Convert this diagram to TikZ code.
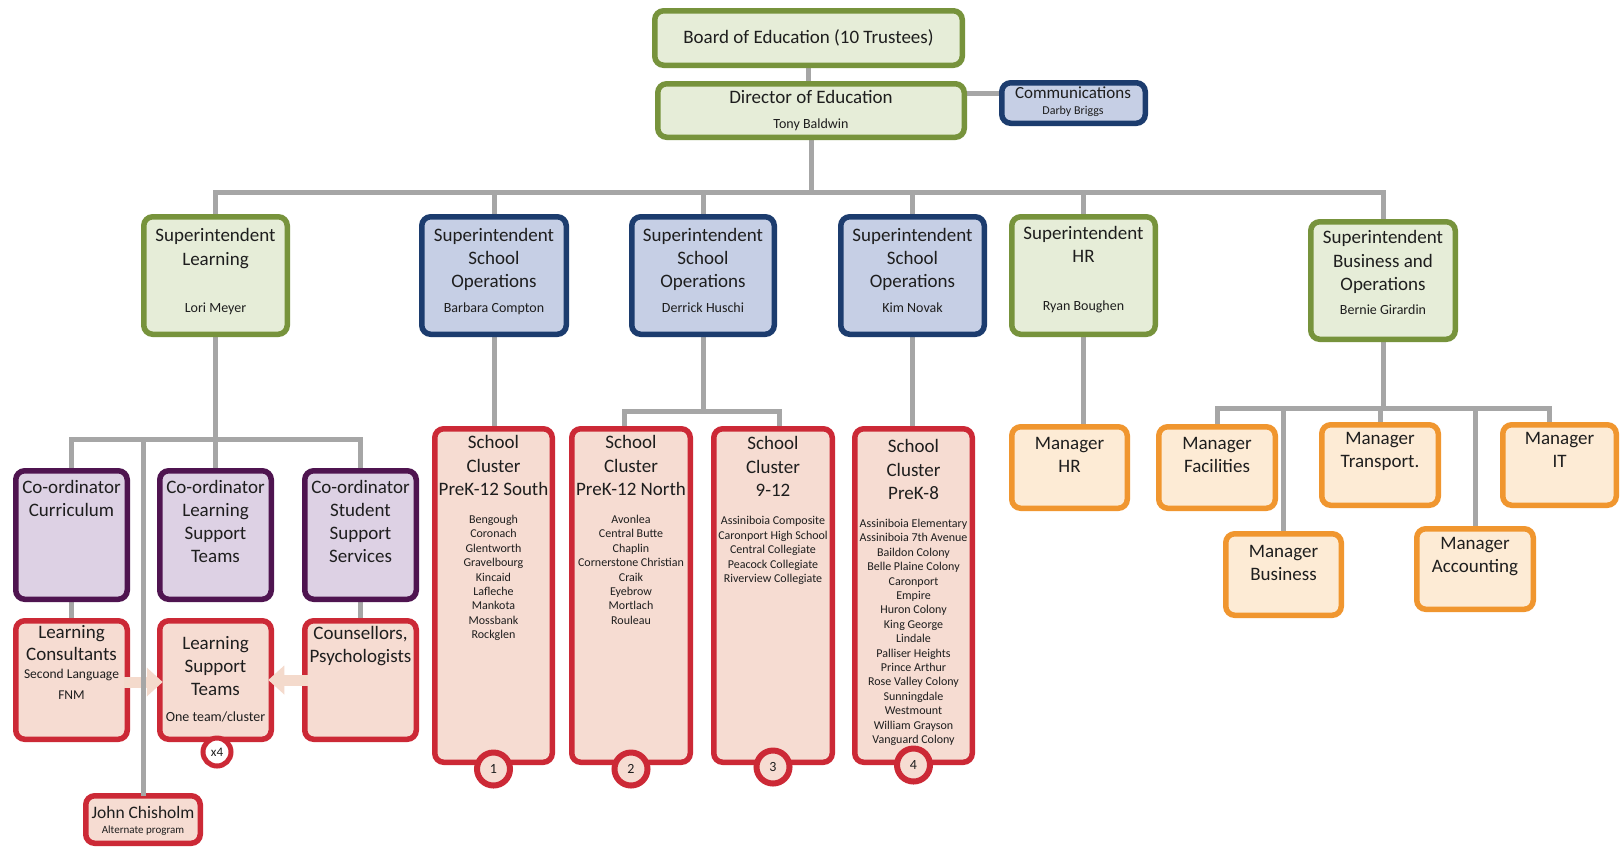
\documentclass[tikz,border=0pt]{standalone}
\usepackage{fontspec}
\setmainfont{Carlito}
\usetikzlibrary{calc,arrows.meta}
\definecolor{gB}{HTML}{77933C}
\definecolor{gF}{HTML}{E6EDD8}
\definecolor{bB}{HTML}{1C3C6E}
\definecolor{bF}{HTML}{C6CFE5}
\definecolor{pB}{HTML}{4F1450}
\definecolor{pF}{HTML}{DDD1E4}
\definecolor{rB}{HTML}{CC2936}
\definecolor{rF}{HTML}{F6DCD2}
\definecolor{oB}{HTML}{F0962F}
\definecolor{oF}{HTML}{FDEBD5}
\definecolor{lineG}{HTML}{A6A6A6}
\definecolor{paleC}{HTML}{F4DACC}
\definecolor{txtC}{HTML}{1E1E1E}
\pgfdeclarelayer{bg}
\pgfsetlayers{bg,main}
\newcommand\obox[6]{%
  \pgfmathsetmacro\oBW{#5-#3-5.5}\pgfmathsetmacro\oBH{#6-#4-5.5}%
  \pgfmathsetmacro\oBX{(#3+#5)/2}\pgfmathsetmacro\oBY{(#4+#6)/2}%
  \node[#2, minimum width=\oBW pt, minimum height=\oBH pt] (#1) at (\oBX,\oBY) {};}
\newcommand\tx[6]{%
  \node[txt, font=\fontsize{#4}{#5}\selectfont] (#1) at (#2,{#3-0.4*#4}) {#6};}
\tikzset{
  box/.style={rectangle, rounded corners=9pt, line width=5.5pt, inner sep=0pt, outer sep=0pt},
  gbox/.style={box, draw=gB, fill=gF},
  bbox/.style={box, draw=bB, fill=bF},
  pbox/.style={box, draw=pB, fill=pF},
  rbox/.style={box, draw=rB, fill=rF},
  obx/.style={box, draw=oB, fill=oF},
  conn/.style={draw=lineG, line width=5pt},
  txt/.style={inner sep=0pt, outer sep=0pt, align=center, anchor=north, text=txtC},
  numc/.style={circle, draw=rB, fill=rF, line width=6pt, minimum size=33pt, inner sep=0pt, text=txtC, font=\fontsize{14}{16}\selectfont},
  xc/.style={circle, draw=rB, fill=white, line width=5pt, minimum size=28pt, inner sep=0pt, text=txtC, font=\fontsize{13}{15}\selectfont},
  parrow/.style={draw=paleC, line width=11pt, -{Triangle[width=28pt,length=16pt]}}
}
\begin{document}
\begin{tikzpicture}[x=1pt,y=-1pt]
\useasboundingbox (0,0) rectangle (1621,847);
% boxes
\obox{board}{gbox}{652}{8}{965}{68}
\obox{dir}{gbox}{655}{81}{967}{140}
\obox{comm}{bbox}{999}{80}{1148}{126}
\obox{supL}{gbox}{141}{214}{290}{337}
\obox{supB}{bbox}{419}{214}{569}{337}
\obox{supD}{bbox}{629}{214}{777}{337}
\obox{supK}{bbox}{838}{214}{987}{337}
\obox{supH}{gbox}{1009}{214}{1158}{337}
\obox{supBO}{gbox}{1308}{219}{1458}{342}
\obox{coC}{pbox}{13}{468}{130}{602}
\obox{coL}{pbox}{157}{468}{274}{602}
\obox{coS}{pbox}{302}{468}{419}{602}
\obox{lc}{rbox}{13}{618}{130}{742}
\obox{lst}{rbox}{157}{618}{274}{742}
\obox{cou}{rbox}{302}{618}{419}{742}
\obox{john}{rbox}{83}{793}{203}{846}
\obox{c1}{rbox}{432}{426}{555}{765}
\obox{c2}{rbox}{569}{426}{693}{765}
\obox{c3}{rbox}{711}{426}{835}{765}
\obox{c4}{rbox}{852}{426}{975}{765}
\obox{mHR}{obx}{1009}{424}{1130}{511}
\obox{mF}{obx}{1156}{424}{1278}{511}
\obox{mT}{obx}{1319}{422}{1441}{508}
\obox{mIT}{obx}{1500}{422}{1619}{508}
\obox{mB}{obx}{1223}{531}{1344}{618}
\obox{mA}{obx}{1414}{526}{1536}{612}
% connectors
\coordinate (cy) at (0,93);
\coordinate (b1) at (0,192);
\coordinate (lb) at (0,439);
\coordinate (db) at (0,411);
\coordinate (bb) at (0,408);
\coordinate (ya) at (0,682);
\coordinate (yb) at (0,680);
\begin{pgfonlayer}{bg}
\fill[white] (0,0) rectangle (1621,847);
\draw[conn] (board.south) -- (board.south |- dir.north);
\draw[conn] (dir.east |- cy) -- (comm.west |- cy);
\draw[conn] (dir.south) -- (dir.south |- b1);
\foreach \s in {supL,supB,supD,supK,supH,supBO}{\draw[conn] (dir.south |- b1) -| (\s.north);}
\draw[conn] (supL.south) -- (supL.south |- lb);
\foreach \s in {coC,coL,coS}{\draw[conn] (supL.south |- lb) -| (\s.north);}
\draw[conn] (coC.south) -- (lc.north);
\draw[conn] (coS.south) -- (cou.north);
\draw[conn] (supB.south) -- (supB.south |- c1.north);
\draw[conn] (supD.south) -- (supD.south |- db) -| ([xshift=-7pt]c2.north);
\draw[conn] (supD.south |- db) -| ([xshift=6pt]c3.north);
\draw[conn] (supK.south) -- (supK.south |- c4.north);
\draw[conn] (supH.south) -- (supH.south |- mHR.north);
\draw[conn] (supBO.south) -- (supBO.south |- bb);
\foreach \s in {mF,mB,mT,mA}{\draw[conn] (supBO.south |- bb) -| (\s.north);}
\draw[conn] (supBO.south |- bb) -| ([xshift=-10pt]mIT.north);
\end{pgfonlayer}
\draw[parrow] ([xshift=-3pt]lc.east |- ya) -- ([xshift=3pt]lst.west |- ya);
\draw[parrow] ([xshift=3pt]cou.west |- yb) -- ([xshift=-3pt]lst.east |- yb);
\draw[conn] (supL.south |- lb) -| (john.north);
% circles
\node[numc] (n1) at (493.5,769) {1};
\node[numc] (n2) at (631,769) {2};
\node[numc] (n3) at (773,767) {3};
\node[numc] (n4) at (913.5,765) {4};
\node[xc] (x4) at (217,752) {x4};
% texts
\tx{tBoard}{808.5}{37}{19}{23}{Board of Education (10 Trustees)}
\tx{tDir}{811}{98}{19}{23}{Director of Education}
\tx{tDirN}{811}{124}{14}{16}{Tony Baldwin}
\tx{tCom}{1073}{94}{17}{20}{Communications}
\tx{tComN}{1073}{111}{12}{14}{Darby Briggs}
\tx{tSL}{215.5}{236}{19}{23.5}{Superintendent\\Learning}
\tx{tSLn}{215.5}{308}{14}{16}{Lori Meyer}
\tx{tSB}{494}{236}{19}{23}{Superintendent\\School\\Operations}
\tx{tSBn}{494}{308}{14}{16}{Barbara Compton}
\tx{tSD}{703}{236}{19}{23}{Superintendent\\School\\Operations}
\tx{tSDn}{703}{308}{14}{16}{Derrick Huschi}
\tx{tSK}{912.5}{236}{19}{23}{Superintendent\\School\\Operations}
\tx{tSKn}{912.5}{308}{14}{16}{Kim Novak}
\tx{tSH}{1083.5}{234}{19}{23}{Superintendent\\HR}
\tx{tSHn}{1083.5}{306}{14}{16}{Ryan Boughen}
\tx{tSO}{1383}{238}{19}{23.5}{Superintendent\\Business and\\Operations}
\tx{tSOn}{1383}{310}{14}{16}{Bernie Girardin}
\tx{tcoC}{71.5}{488}{19}{23}{Co-ordinator\\Curriculum}
\tx{tcoL}{215.5}{488}{19}{23}{Co-ordinator\\Learning\\Support\\Teams}
\tx{tcoS}{360.5}{488}{19}{23}{Co-ordinator\\Student\\Support\\Services}
\tx{tlc}{71.5}{633}{19}{22.5}{Learning\\Consultants}
\tx{tlc2}{71.5}{675}{13.5}{21}{Second Language\\FNM}
\tx{tlst}{215.5}{644}{19}{23}{Learning\\Support\\Teams}
\tx{tlst2}{215.5}{717}{14}{16}{One team/cluster}
\tx{tcou}{360.5}{634}{19}{23}{Counsellors,\\Psychologists}
\tx{tjohn}{143}{813}{17.5}{20}{John Chisholm}
\tx{tjohn2}{143}{830}{11}{13}{Alternate program}
\tx{tc1}{493.5}{443}{19}{23.5}{School\\Cluster\\PreK-12 South}
\tx{tc1l}{493.5}{520}{12}{14.4}{Bengough\\Coronach\\Glentworth\\Gravelbourg\\Kincaid\\Lafleche\\Mankota\\Mossbank\\Rockglen}
\tx{tc2}{631}{443}{19}{23.5}{School\\Cluster\\PreK-12 North}
\tx{tc2l}{631}{520}{12}{14.4}{Avonlea\\Central Butte\\Chaplin\\Cornerstone Christian\\Craik\\Eyebrow\\Mortlach\\Rouleau}
\tx{tc3}{773}{444}{19}{23.5}{School\\Cluster\\9-12}
\tx{tc3l}{773}{521}{12}{14.6}{Assiniboia Composite\\Caronport High School\\Central Collegiate\\Peacock Collegiate\\Riverview Collegiate}
\tx{tc4}{913.5}{447}{19}{23.5}{School\\Cluster\\PreK-8}
\tx{tc4l}{913.5}{524}{12}{14.4}{Assiniboia Elementary\\Assiniboia 7th Avenue\\Baildon Colony\\Belle Plaine Colony\\Caronport\\Empire\\Huron Colony\\King George\\Lindale\\Palliser Heights\\Prince Arthur\\Rose Valley Colony\\Sunningdale\\Westmount\\William Grayson\\Vanguard Colony}
\tx{tmHR}{1069.5}{445}{19}{23}{Manager\\HR}
\tx{tmF}{1217}{445}{19}{23}{Manager\\Facilities}
\tx{tmT}{1380}{440}{19}{23}{Manager\\Transport.}
\tx{tmIT}{1559.5}{440}{19}{23}{Manager\\IT}
\tx{tmB}{1283.5}{553}{19}{23}{Manager\\Business}
\tx{tmA}{1475}{545}{19}{23}{Manager\\Accounting}
\end{tikzpicture}
\end{document}
